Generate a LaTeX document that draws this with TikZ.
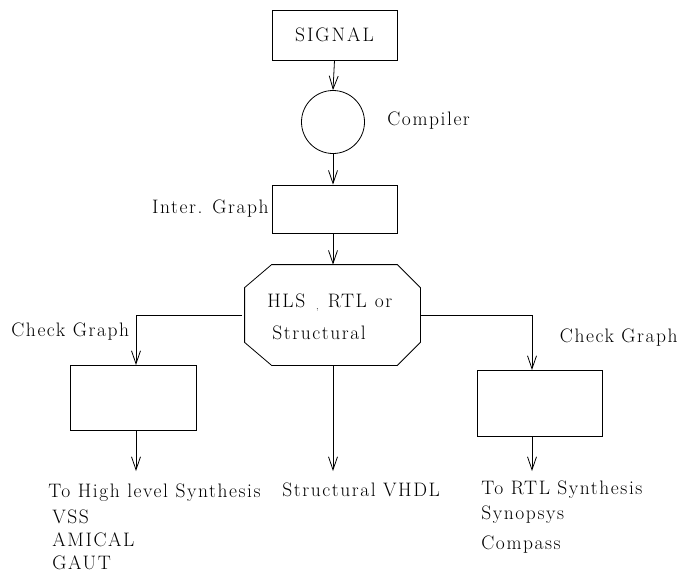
\documentclass[tikz,border=0pt]{standalone}
\usepackage{fontspec}
\setmainfont{Latin Modern Roman}[LetterSpace=8]
\usetikzlibrary{arrows.meta,calc}
\begin{document}
\begin{tikzpicture}[x=1pt,y=-1pt, line width=0.8pt,
  every node/.style={font=\fontsize{19.5}{22}\selectfont, inner sep=0pt},
  box/.style={draw, rectangle, minimum width=125pt},
  arr/.style={-{Straight Barb[length=13pt,width=9pt,line width=0.8pt]}},
  lbl/.style={anchor=west}]
\useasboundingbox (0,0) rectangle (679,573);
% boxes
\node[box, minimum height=50pt] (signal) at (334.5,35) {S\hspace{2pt}I\hspace{2pt}G\hspace{2pt}N\hspace{2pt}A\hspace{2pt}L};
\node[draw, circle, minimum size=63pt] (comp) at (333,122) {};
\node[lbl] (complbl) at (387,121) {Compiler};
\node[box, minimum height=48pt] (inter) at (334.5,209) {};
\node[anchor=east] (interlbl) at (269,209) {Inter. Graph};
% octagon
\node[minimum width=175pt, minimum height=100pt] (oct) at (332.5,315) {};
\draw ($(oct.north west)+(27,0)$) -- ($(oct.north east)+(-23,0)$)
  -- ($(oct.north east)+(0,23)$) -- ($(oct.south east)+(0,-23)$)
  -- ($(oct.south east)+(-23,0)$) -- ($(oct.south west)+(27,0)$)
  -- ($(oct.south west)+(0,-23)$) -- ($(oct.north west)+(0,23)$) -- cycle;
\node[lbl] (hls) at (267,303) {HLS\hspace{11pt}{\fontsize{9}{10}\selectfont\raisebox{-2pt}{,}}\hspace{9pt}RTL\hspace{8pt}or};
\node[lbl] (struct) at (272,333) {Structural};
% side boxes
\node[box, minimum width=126pt, minimum height=65pt] (lbox) at (133,397.5) {};
\node[box, minimum height=66pt] (rbox) at (539.5,403) {};
\node[lbl] (lcheck) at (11,332) {Check Graph};
\node[anchor=east] (rcheck) at (678,338) {Check Graph};
% connectors
\draw[arr] (signal.south) -- (comp.north);
\draw[arr] (comp.south) -- (inter.north -| comp.south);
\draw[arr] (inter.south -| comp.south) -- (oct.north -| comp.south);
\coordinate (lstart) at (242,315);
\coordinate (rstart) at (420,315);
\coordinate (ltop) at (136,365);
\coordinate (rtop) at (532,370);
\draw[arr] (lstart) -| (ltop);
\draw[arr] (rstart) -| (rtop);
\coordinate (lend) at (136,471);
\coordinate (cend) at (333,471);
\coordinate (rend) at (532,471);
\draw[arr] (lbox.south -| ltop) -- (lend);
\draw[arr] (oct.south -| cend) -- (cend);
\draw[arr] (rbox.south -| rtop) -- (rend);
% outputs
\node[lbl] (o1) at (48,493) {To High level Synthesis};
\node[lbl] (o2) at (52,517) {VSS};
\node[lbl] (o3) at (52,540) {AMICAL};
\node[lbl] (o4) at (52,563) {GAUT};
\node[lbl] (o5) at (282,490) {Structural VHDL};
\node[lbl] (o6) at (481,490) {To RTL Synthesis};
\node[lbl] (o7) at (481,515) {Synopsys};
\node[lbl] (o8) at (481,545) {Compass};
\end{tikzpicture}
\end{document}
